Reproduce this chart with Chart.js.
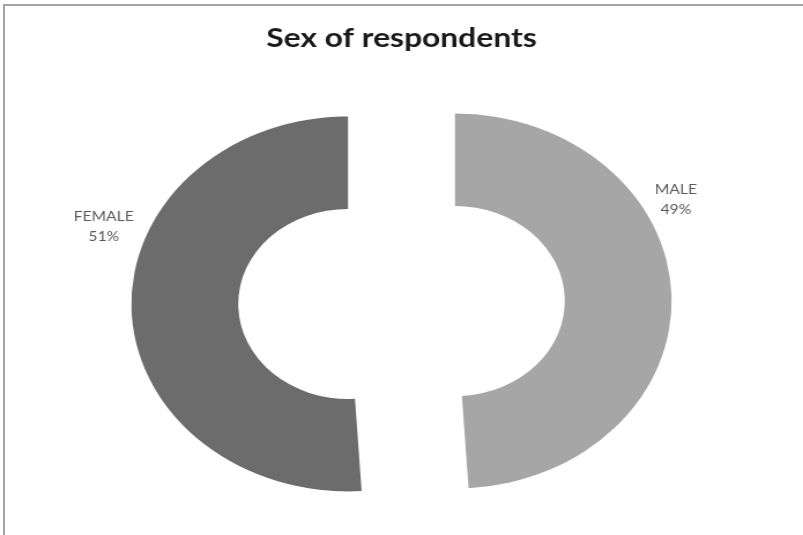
<!DOCTYPE html>
<html>
<head>
<meta charset="utf-8">
<script src="https://cdn.jsdelivr.net/npm/chart.js@4"></script>
<style>
  html, body { margin: 0; padding: 0; background: #ffffff; }
  #page { position: relative; width: 803px; height: 535px; overflow: hidden; background: #ffffff; }
  #frame { position: absolute; left: 3px; top: 4px; width: 810px; height: 540px;
           border-left: 2px solid #a3a3a3; border-top: 2px solid #a3a3a3; box-sizing: border-box; }
  #wrap { position: absolute; left: 0; top: 0; width: 695px; height: 535px;
          transform: scaleX(1.1554); transform-origin: 0 0; }
</style>
</head>
<body>
<div id="page">
  <div id="frame"></div>
  <div id="wrap"><canvas id="c"></canvas></div>
</div>
<script>
// ---- data ----
const titleText = 'Sex of respondents';
const categories = ['MALE', 'FEMALE'];
const percentages = [49, 51];

// ---- styles ----
function dotPattern() {
  const p = document.createElement('canvas');
  p.width = 2; p.height = 2;
  const g = p.getContext('2d');
  g.fillStyle = '#8a8a8a'; g.fillRect(0, 0, 2, 2);
  g.fillStyle = '#4e4e4e'; g.fillRect(0, 0, 1, 1); g.fillRect(1, 1, 1, 1);
  return g.createPattern(p, 'repeat');
}
const sliceFills = ['#a6a6a6', dotPattern()];
const explode = 46.3;          // exploded distance of each slice (px)
const labelDir = [-28, -160];  // label direction from slice centre (deg)
const labelDist = [1.155, 1.2];// label distance as factor of outer radius

// explode slices: shift each arc element along its mid-angle when drawn
const explodeSlices = {
  id: 'explodeSlices',
  beforeDatasetDraw(chart, args) {
    args.meta.data.forEach(arc => {
      if (arc._exploded) return;
      const orig = arc.draw;
      arc.draw = function (ctx) {
        const half = (this.startAngle + this.endAngle) / 2;
        ctx.save();
        ctx.translate(Math.cos(half) * explode, Math.sin(half) * explode);
        orig.call(this, ctx);
        ctx.restore();
      };
      arc._exploded = true;
    });
  }
};

const sliceLabels = {
  id: 'sliceLabels',
  afterDatasetsDraw(chart) {
    const ctx = chart.ctx;
    const meta = chart.getDatasetMeta(0);
    ctx.save();
    ctx.font = '13.5px Lato, "Liberation Sans", sans-serif';
    ctx.fillStyle = '#595959';
    ctx.textAlign = 'center';
    ctx.textBaseline = 'middle';
    meta.data.forEach((arc, i) => {
      const half = (arc.startAngle + arc.endAngle) / 2;
      const cx = arc.x + Math.cos(half) * explode;
      const cy = arc.y + Math.sin(half) * explode;
      const r = arc.outerRadius * labelDist[i];
      const a = labelDir[i] * Math.PI / 180;
      const lx = cx + Math.cos(a) * r;
      const ly = cy + Math.sin(a) * r;
      ctx.fillText(categories[i], lx, ly - 10);
      ctx.fillText(percentages[i] + '%', lx, ly + 10);
    });
    ctx.restore();
  }
};

new Chart(document.getElementById('c'), {
  type: 'doughnut',
  data: {
    labels: categories,
    datasets: [{
      data: percentages,
      backgroundColor: sliceFills,
      borderWidth: 0,
      hoverOffset: 0
    }]
  },
  options: {
    responsive: true,
    maintainAspectRatio: false,
    animation: false,
    radius: 187.5,
    cutout: '50.7%',
    layout: { padding: 0 },
    plugins: {
      legend: { display: false },
      tooltip: { enabled: false },
      title: {
        display: true,
        text: titleText,
        color: '#1a1a1a',
        font: { family: 'Lato, "Liberation Sans", sans-serif', size: 27.5, weight: 'bold', lineHeight: 1.2 },
        padding: { top: 22, bottom: 15 }
      }
    }
  },
  plugins: [explodeSlices, sliceLabels]
});
</script>
</body>
</html>
